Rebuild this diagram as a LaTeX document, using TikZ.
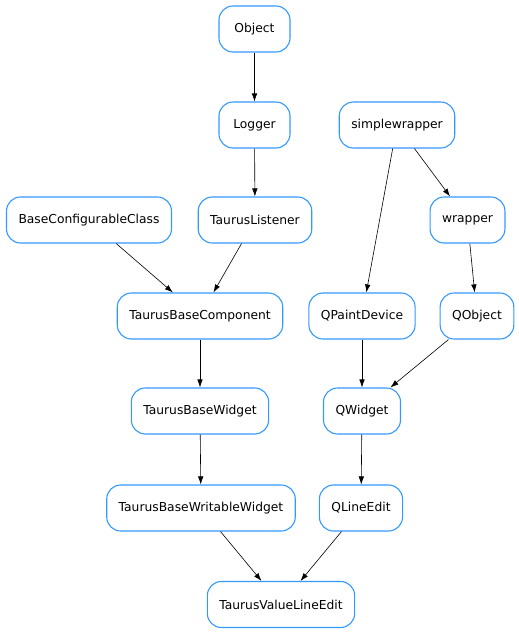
\documentclass[tikz,border=0pt]{standalone}
\usepackage{fontspec}
\setmainfont{DejaVu Sans}
\usetikzlibrary{arrows.meta,positioning}
\definecolor{clsblue}{RGB}{51,153,255}

\begin{document}
\begin{tikzpicture}[x=1pt,y=-1pt,
    cls/.style={draw=clsblue,line width=1.1pt,rounded corners=14pt,fill=white,
      minimum height=46pt,minimum width=71pt,inner xsep=12pt,
      font=\fontsize{12.3}{14}\selectfont},
    inh/.style={->,>={Latex[length=8pt,width=5.5pt]},line width=.6pt}]
    \useasboundingbox (0,0) rectangle (519,635);

    \node[cls] (object) at (254.5,29) {Object};
    \node[cls] (logger) at (254.5,125) {Logger};
    \node[cls] (simplewrapper) at (397,125) {simplewrapper};
    \node[cls] (baseconf) at (89,220) {BaseConfigurableClass};
    \node[cls] (listener) at (255,220) {TaurusListener};
    \node[cls] (wrapper) at (467.5,220) {wrapper};
    \node[cls] (basecomp) at (200,316) {TaurusBaseComponent};
    \node[cls] (qpaint) at (362,316) {QPaintDevice};
    \node[cls] (qobject) at (477,316) {QObject};
    \node[cls] (basewidget) at (200,411) {TaurusBaseWidget};
    \node[cls] (qwidget) at (362,411) {QWidget};
    \node[cls] (writable) at (201,508) {TaurusBaseWritableWidget};
    \node[cls] (qlineedit) at (361,508) {QLineEdit};
    \node[cls] (valuelineedit) at (281,604.5) {TaurusValueLineEdit};

    \draw[inh] (object) to (logger);
    \draw[inh] (logger) to (listener);
    \draw[inh] (simplewrapper) to (wrapper);
    \draw[inh] (simplewrapper) to (qpaint);
    \draw[inh] (baseconf) to (basecomp);
    \draw[inh] (listener) to (basecomp);
    \draw[inh] (wrapper) to (qobject);
    \draw[inh] (basecomp) to (basewidget);
    \draw[inh] (qpaint) to (qwidget);
    \draw[inh] (qobject) to (qwidget);
    \draw[inh] (basewidget) to (writable);
    \draw[inh] (qwidget) to (qlineedit);
    \draw[inh] (writable) to (valuelineedit);
    \draw[inh] (qlineedit) to (valuelineedit);

\end{tikzpicture}
\end{document}
